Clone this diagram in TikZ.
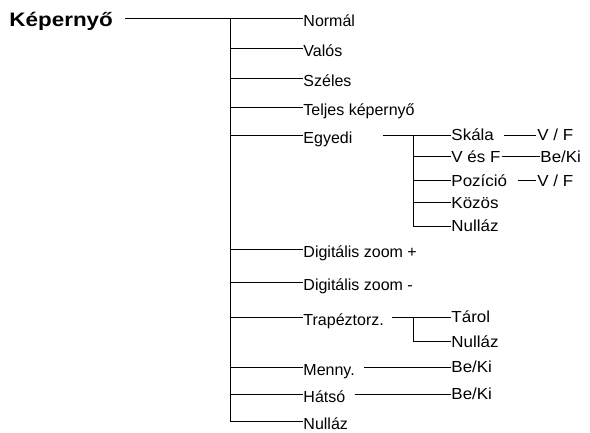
\documentclass[tikz,border=0pt]{standalone}
\usepackage{fontspec}
\setmainfont{Liberation Sans}
\newfontfamily\subfont[FakeStretch=1.06]{Liberation Sans}
\newfontfamily\titlefont[FakeStretch=1.15]{Liberation Sans}

\begin{document}
\begin{tikzpicture}[x=1bp,y=-1bp,line width=0.9bp,
  lbl/.style={anchor=west,inner sep=0pt,text height=11bp,text depth=0pt,
    font=\fontsize{16bp}{18bp}\selectfont},
  sublbl/.style={lbl,font=\subfont\fontsize{16bp}{18bp}\selectfont}]
\useasboundingbox (0,0) rectangle (590,432);

% title and trunk
\node[anchor=base west,inner sep=0pt,font=\titlefont\bfseries\fontsize{19.5bp}{22bp}\selectfont] (title) at (9,26.7) {Képernyő};
\coordinate (top) at (230,18.5);
\coordinate (bottom) at (230,422);
\draw ([xshift=12bp]title.east |- top) -- (top) -- (bottom);

% first level
\foreach \y/\name/\txt in {18.5/normal/Normál, 48.3/valos/Valós, 78.3/szeles/Széles,
    107/teljes/Teljes képernyő, 135/egyedi/Egyedi, 249.5/dzplus/Digitális zoom +,
    282.3/dzminus/Digitális zoom -, 317.3/trapez/Trapéztorz., 367.3/menny/Menny.,
    394/hatso/Hátsó, 421.7/nullaz/Nulláz}{
  \node[lbl] (\name) at (303,\y+2.5) {\txt};
  \coordinate (j\name) at (230,\y);
  \draw (j\name) -- (j\name -| \name.west);
}

% Egyedi
\coordinate (e0) at (413,135);
\coordinate (e4) at (413,226);
\node[sublbl] (skala) at (451,135) {Skála};
\node[sublbl] (vesf) at (451,156.7) {V és F};
\node[sublbl] (pozicio) at (451,180.7) {Pozíció};
\node[sublbl] (kozos) at (451,202.7) {Közös};
\node[sublbl] (enull) at (451,226) {Nulláz};
\draw ([xshift=30bp]egyedi.east |- e0) -- (e0) -- (e4);
\foreach \n in {skala,vesf,pozicio,kozos,enull}
  \draw (\n.west -| e0) -- (\n.west);
\node[sublbl] (vfa) at (537,135) {V / F};
\node[sublbl] (beki) at (540,156.7) {Be/Ki};
\node[sublbl] (vfb) at (537,180.7) {V / F};
\draw ([xshift=10bp]skala.east) -- ([xshift=-1bp]vfa.west);
\draw ([xshift=1bp]vesf.east) -- (beki.west);
\draw ([xshift=10bp]pozicio.east) -- ([xshift=-1bp]vfb.west);

% Trapeztorz.
\coordinate (t0) at (413,317.3);
\coordinate (t1) at (413,341.7);
\node[sublbl] (tarol) at (451,317.3) {Tárol};
\node[sublbl] (tnull) at (451,341.7) {Nulláz};
\draw ([xshift=8bp]trapez.east |- t0) -- (tarol.west);
\draw (t0) -- (t1) -- (tnull.west);

% Menny. / Hatso
\node[sublbl] (mbeki) at (451,367.3) {Be/Ki};
\node[sublbl] (hbeki) at (451,394) {Be/Ki};
\draw ([xshift=9bp]menny.east |- mbeki.west) -- (mbeki.west);
\draw ([xshift=9bp]hatso.east |- hbeki.west) -- (hbeki.west);
\end{tikzpicture}
\end{document}
